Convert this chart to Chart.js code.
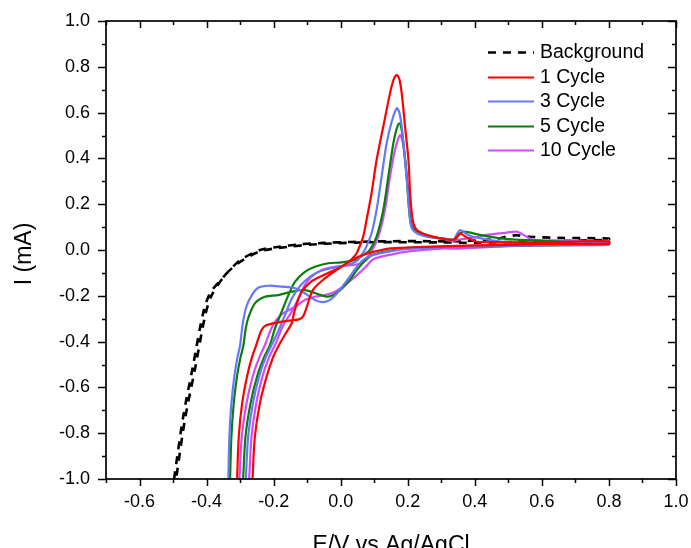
<!DOCTYPE html>
<html>
<head>
<meta charset="utf-8">
<title>CV cycles</title>
<script src="https://cdn.jsdelivr.net/npm/chart.js@4.4.1/dist/chart.umd.min.js"></script>
<style>
    html, body { margin: 0; padding: 0; background: #ffffff; }
    #wrap { width: 691px; height: 548px; position: relative; }
</style>
</head>
<body>
<div id="wrap"><canvas id="cvChart"></canvas></div>
<script>
"use strict";

/* ---------- data: [E (V), I (mA)] ---------- */

const xTitle = "E/V vs Ag/AgCl";
const yTitle = "I (mA)";
const seriesLabels = ["Background", "1 Cycle", "3 Cycle", "5 Cycle", "10 Cycle"];
const seriesColors = ["#000000", "#ff0000", "#6479f7", "#0b7d0b", "#d24cf5"];

const bgForward = [
    [-0.497, -1.0], [-0.470, -0.73], [-0.441, -0.51], [-0.411, -0.28], [-0.39, -0.19],
    [-0.345, -0.11], [-0.30, -0.045], [-0.24, 0.0], [-0.19, 0.013], [-0.12, 0.025],
    [-0.05, 0.031], [0.03, 0.035], [0.13, 0.038], [0.23, 0.039], [0.33, 0.038],
    [0.45, 0.046], [0.52, 0.064], [0.56, 0.058], [0.65, 0.053], [0.8, 0.05]
];
const bgReverse = [
    [0.8, 0.045], [0.6, 0.038], [0.4, 0.032], [0.3, 0.033], [0.1, 0.034],
    [-0.05, 0.027], [-0.15, 0.015], [-0.24, -0.006], [-0.30, -0.052], [-0.342, -0.105],
    [-0.384, -0.195], [-0.404, -0.285], [-0.434, -0.515], [-0.464, -0.735], [-0.491, -1.0]
];

const cycle1Anodic = [
    [-0.263, -1.0], [-0.256, -0.815], [-0.241, -0.669], [-0.221, -0.553], [-0.201, -0.466],
    [-0.181, -0.407], [-0.161, -0.357], [-0.146, -0.32], [-0.14, -0.28], [-0.13, -0.23],
    [-0.115, -0.18], [-0.09, -0.14], [-0.062, -0.117], [-0.03, -0.095], [0.0, -0.075],
    [0.025, -0.05], [0.045, -0.02], [0.052, 0.0], [0.067, 0.058], [0.077, 0.131],
    [0.092, 0.248], [0.107, 0.393], [0.127, 0.539], [0.147, 0.684], [0.158, 0.745],
    [0.167, 0.764], [0.175, 0.745], [0.182, 0.684], [0.192, 0.539], [0.202, 0.393],
    [0.207, 0.248], [0.212, 0.16], [0.217, 0.116], [0.227, 0.087], [0.256, 0.066],
    [0.296, 0.051], [0.336, 0.045], [0.348, 0.06], [0.356, 0.073], [0.37, 0.06],
    [0.39, 0.045], [0.405, 0.036], [0.5, 0.033], [0.65, 0.035], [0.8, 0.038]
];
const cycle1Cathodic = [
    [0.8, 0.028], [0.6, 0.025], [0.4, 0.02], [0.25, 0.014], [0.15, 0.007],
    [0.1, -0.007], [0.07, -0.02], [0.037, -0.041], [0.018, -0.058], [-0.012, -0.087],
    [-0.053, -0.131], [-0.083, -0.175], [-0.101, -0.248], [-0.112, -0.29], [-0.125, -0.303],
    [-0.146, -0.307], [-0.186, -0.316], [-0.221, -0.328], [-0.236, -0.349], [-0.252, -0.415],
    [-0.265, -0.47], [-0.279, -0.55], [-0.294, -0.67], [-0.304, -0.815], [-0.309, -1.0]
];

const cycle3Anodic = [
    [-0.283, -1.0], [-0.276, -0.815], [-0.262, -0.67], [-0.243, -0.55], [-0.224, -0.47],
    [-0.206, -0.415], [-0.185, -0.35], [-0.165, -0.28], [-0.145, -0.21], [-0.12, -0.155],
    [-0.09, -0.115], [-0.06, -0.092], [-0.02, -0.077], [0.02, -0.065], [0.05, -0.045],
    [0.065, -0.015], [0.072, 0.0], [0.092, 0.073], [0.107, 0.175], [0.122, 0.32],
    [0.137, 0.466], [0.152, 0.56], [0.167, 0.619], [0.175, 0.6], [0.182, 0.539],
    [0.192, 0.393], [0.202, 0.218], [0.207, 0.131], [0.212, 0.095], [0.227, 0.073],
    [0.256, 0.058], [0.3, 0.05], [0.336, 0.045], [0.347, 0.07], [0.356, 0.087],
    [0.375, 0.07], [0.395, 0.058], [0.44, 0.045], [0.484, 0.036], [0.6, 0.03], [0.8, 0.03]
];
const cycle3Cathodic = [
    [0.8, 0.022], [0.6, 0.02], [0.4, 0.015], [0.3, 0.012], [0.2, 0.005],
    [0.15, -0.005], [0.097, -0.022], [0.07, -0.04], [0.052, -0.066], [0.023, -0.124],
    [-0.007, -0.182], [-0.032, -0.218], [-0.052, -0.228], [-0.077, -0.218], [-0.107, -0.189],
    [-0.136, -0.167], [-0.176, -0.16], [-0.216, -0.156], [-0.246, -0.165], [-0.265, -0.197],
    [-0.282, -0.25], [-0.293, -0.33], [-0.3, -0.415], [-0.308, -0.47], [-0.317, -0.55],
    [-0.326, -0.67], [-0.332, -0.815], [-0.335, -1.0]
];

const cycle5Anodic = [
    [-0.291, -1.0], [-0.284, -0.815], [-0.269, -0.67], [-0.249, -0.55], [-0.229, -0.47],
    [-0.211, -0.415], [-0.196, -0.342], [-0.176, -0.269], [-0.156, -0.197], [-0.136, -0.138],
    [-0.107, -0.095], [-0.077, -0.073], [-0.037, -0.058], [0.003, -0.054], [0.042, -0.044],
    [0.07, -0.02], [0.087, 0.0], [0.107, 0.058], [0.127, 0.175], [0.142, 0.32],
    [0.157, 0.466], [0.167, 0.53], [0.175, 0.553], [0.181, 0.53], [0.187, 0.466],
    [0.197, 0.32], [0.204, 0.175], [0.212, 0.102], [0.232, 0.073], [0.266, 0.058],
    [0.31, 0.05], [0.34, 0.045], [0.352, 0.065], [0.366, 0.08], [0.415, 0.066],
    [0.47, 0.052], [0.535, 0.044], [0.684, 0.036], [0.8, 0.03]
];
const cycle5Cathodic = [
    [0.8, 0.025], [0.6, 0.02], [0.4, 0.016], [0.296, 0.014], [0.197, 0.007],
    [0.15, -0.003], [0.097, -0.02], [0.072, -0.048], [0.052, -0.08], [0.023, -0.138],
    [-0.007, -0.182], [-0.037, -0.204], [-0.067, -0.193], [-0.107, -0.175], [-0.146, -0.182],
    [-0.186, -0.197], [-0.226, -0.204], [-0.256, -0.233], [-0.276, -0.298], [-0.284, -0.35],
    [-0.29, -0.415], [-0.299, -0.47], [-0.309, -0.55], [-0.319, -0.67], [-0.326, -0.815],
    [-0.33, -1.0]
];

const cycle10Anodic = [
    [-0.273, -1.0], [-0.266, -0.815], [-0.252, -0.67], [-0.233, -0.55], [-0.214, -0.47],
    [-0.196, -0.415], [-0.171, -0.328], [-0.146, -0.269], [-0.126, -0.211], [-0.107, -0.153],
    [-0.087, -0.117], [-0.057, -0.087], [-0.017, -0.073], [0.033, -0.066], [0.062, -0.058],
    [0.075, -0.04], [0.092, -0.007], [0.112, 0.058], [0.132, 0.175], [0.147, 0.32],
    [0.162, 0.437], [0.177, 0.502], [0.185, 0.47], [0.192, 0.393], [0.202, 0.248],
    [0.209, 0.131], [0.222, 0.09], [0.236, 0.078], [0.256, 0.064], [0.296, 0.051],
    [0.336, 0.041], [0.35, 0.045], [0.366, 0.048], [0.4, 0.055], [0.435, 0.066],
    [0.495, 0.076], [0.525, 0.08], [0.545, 0.066], [0.575, 0.044], [0.684, 0.041], [0.8, 0.036]
];
const cycle10Cathodic = [
    [0.8, 0.028], [0.6, 0.022], [0.45, 0.014], [0.405, 0.01], [0.35, 0.006],
    [0.296, 0.006], [0.197, -0.007], [0.15, -0.02], [0.097, -0.04], [0.08, -0.065],
    [0.062, -0.092], [0.043, -0.117], [0.013, -0.153], [-0.017, -0.182], [-0.047, -0.197],
    [-0.077, -0.204], [-0.107, -0.218], [-0.136, -0.248], [-0.171, -0.276], [-0.196, -0.313],
    [-0.211, -0.357], [-0.226, -0.415], [-0.243, -0.47], [-0.262, -0.55], [-0.281, -0.67],
    [-0.295, -0.815], [-0.302, -1.0]
];

const xMin = -0.7, xMax = 1.0, yMin = -1.0, yMax = 1.0;


/* ---------- helpers ---------- */

const toPoints = (pairs) => pairs.map(([x, y]) => ({ x: x, y: y }));

const isMajor = (v) => Math.abs(Math.round(v * 10)) % 2 === 0;

const tickText = (v) => isMajor(v) ? (Math.round(v * 10) / 10).toFixed(1) : "";

const FONT = "'Liberation Sans', Arial, sans-serif";

const loops = [
    bgForward.concat(bgReverse),
    cycle1Anodic.concat(cycle1Cathodic),
    cycle3Anodic.concat(cycle3Cathodic),
    cycle5Anodic.concat(cycle5Cathodic),
    cycle10Anodic.concat(cycle10Cathodic)
];

const datasets = loops.map((pairs, i) => ({
    label: seriesLabels[i],
    data: toPoints(pairs),
    showLine: true,
    borderColor: seriesColors[i],
    backgroundColor: seriesColors[i],
    borderWidth: i === 0 ? 2.6 : 2.2,
    borderDash: i === 0 ? [8, 7] : [],
    pointRadius: 0,
    tension: 0.3,
    fill: false
}));

// paint the cycles first, background dashes above them
const drawOrder = [1, 2, 3, 4, 0];

// Chart.js adds room for overhanging labels; the frame here is fixed
const noScalePadding = (scale) => {
    scale.paddingLeft = 0;
    scale.paddingRight = 0;
    scale.paddingTop = 0;
    scale.paddingBottom = 0;
};


/* ---------- frame, mirrored ticks, titles and legend ---------- */

const framePlugin = {
    id: "framePlugin",
    afterDraw(chart) {
        const ctx = chart.ctx;
        const a = chart.chartArea;
        const xs = chart.scales.x;
        const ys = chart.scales.y;

        ctx.save();
        ctx.strokeStyle = "#000";
        ctx.lineWidth = 1.7;
        ctx.strokeRect(a.left, a.top, a.right - a.left, a.bottom - a.top);

        ctx.lineWidth = 1.5;
        ctx.beginPath();
        xs.ticks.forEach((t) => {
            const px = Math.round(xs.getPixelForValue(t.value)) + 0.5;
            const len = isMajor(t.value) ? 7 : 4;
            ctx.moveTo(px, a.bottom); ctx.lineTo(px, a.bottom + len);
            ctx.moveTo(px, a.top); ctx.lineTo(px, a.top + len);
        });
        ys.ticks.forEach((t) => {
            const py = Math.round(ys.getPixelForValue(t.value)) + 0.5;
            const len = isMajor(t.value) ? 8 : 4;
            ctx.moveTo(a.left, py); ctx.lineTo(a.left - len, py);
            ctx.moveTo(a.right, py); ctx.lineTo(a.right - len, py);
        });
        ctx.stroke();

        // axis titles
        ctx.fillStyle = "#000";
        ctx.font = "23px " + FONT;
        ctx.textAlign = "center";
        ctx.textBaseline = "alphabetic";
        ctx.fillText(xTitle, (a.left + a.right) / 2, 552);

        ctx.save();
        ctx.translate(25, (a.top + a.bottom) / 2 + 4);
        ctx.rotate(-Math.PI / 2);
        ctx.textBaseline = "middle";
        ctx.fillText(yTitle, 0, 0);
        ctx.restore();

        // legend, in the original series order
        const rows = [52, 77, 101, 126, 150];
        ctx.font = "19.5px " + FONT;
        ctx.textAlign = "left";
        ctx.textBaseline = "middle";
        datasets.forEach((ds, i) => {
            const y = rows[i] + 0.5;
            ctx.strokeStyle = ds.borderColor;
            ctx.lineWidth = ds.borderWidth;
            ctx.setLineDash(ds.borderDash);
            ctx.beginPath();
            ctx.moveTo(488, y);
            ctx.lineTo(534, y);
            ctx.stroke();
            ctx.setLineDash([]);
            ctx.fillText(ds.label, 540, rows[i] + 1);
        });

        ctx.restore();
    }
};


/* ---------- chart ---------- */

new Chart(document.getElementById("cvChart"), {

    type: "scatter",

    data: {
        datasets: drawOrder.map((i) => datasets[i])
    },

    options: {
        responsive: true,
        maintainAspectRatio: false,
        animation: false,
        devicePixelRatio: 1,

        layout: {
            padding: { top: 21, right: 15, left: 0, bottom: 0 }
        },

        scales: {
            x: {
                type: "linear",
                min: xMin,
                max: xMax,
                grid: { display: false },
                border: { display: false },
                ticks: {
                    stepSize: 0.1,
                    autoSkip: false,
                    maxRotation: 0,
                    padding: 4,
                    color: "#000",
                    font: { family: FONT, size: 18 },
                    callback: (v) => tickText(v)
                },
                afterFit(scale) {
                    scale.height = 69;
                    noScalePadding(scale);
                }
            },
            y: {
                type: "linear",
                min: yMin,
                max: yMax,
                grid: { display: false },
                border: { display: false },
                ticks: {
                    stepSize: 0.1,
                    autoSkip: false,
                    padding: 8,
                    color: "#000",
                    font: { family: FONT, size: 18 },
                    callback: (v) => tickText(v)
                },
                afterFit(scale) {
                    scale.width = 106;
                    noScalePadding(scale);
                }
            }
        },

        plugins: {
            legend: { display: false },
            tooltip: { enabled: false }
        }
    },

    plugins: [framePlugin]

});
</script>
</body>
</html>
